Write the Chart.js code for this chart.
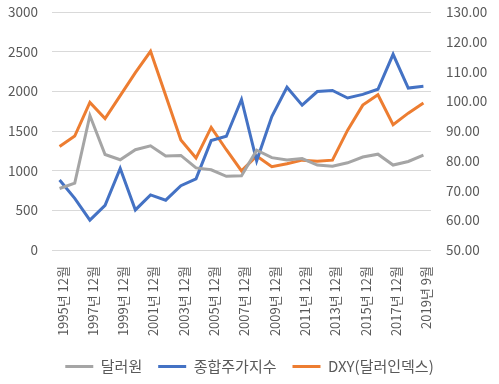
<!DOCTYPE html>
<html>
<head>
<meta charset="utf-8">
<script src="https://cdn.jsdelivr.net/npm/chart.js@4.4.1/dist/chart.umd.min.js"></script>
<style>
html,body{margin:0;padding:0;background:#fff;}
#wrap{width:499px;height:384px;position:relative;}
</style>
</head>
<body>
<div id="wrap"><canvas id="c" width="499" height="384"></canvas></div>
<script>
const categories = ["1995년 12월","1996년 12월","1997년 12월","1998년 12월","1999년 12월","2000년 12월","2001년 12월","2002년 12월","2003년 12월","2004년 12월","2005년 12월","2006년 12월","2007년 12월","2008년 12월","2009년 12월","2010년 12월","2011년 12월","2012년 12월","2013년 12월","2014년 12월","2015년 12월","2016년 12월","2017년 12월","2018년 12월","2019년 9월"];
const usdKrw = [775,844,1695,1204,1138,1264,1313,1186,1192,1035,1011,929,936,1259,1164,1134,1153,1071,1055,1099,1172,1208,1071,1116,1196];
const kospi = [883,651,376,562,1028,505,694,628,811,896,1379,1434,1897,1124,1683,2051,1826,1997,2011,1916,1961,2026,2467,2041,2063];
const dxy = [84.8,88.3,99.6,94.2,101.9,109.6,116.8,101.9,87.0,80.9,91.2,83.7,76.6,81.6,78.0,79.0,80.2,79.8,80.2,90.3,98.7,102.2,92.1,96.0,99.4];
const seriesNames = ["달러원","종합주가지수","DXY(달러인덱스)"];
const leftTicks = {min:0,max:3000,step:500};
const rightTicks = {min:50,max:130,step:10};

const FONT = "'Noto Sans CJK KR', 'Noto Sans', sans-serif";
const TXT = '#595959';

function fixY(w){
  return function(s){ s.width = w; s.paddingTop = 0; s.paddingBottom = 0; };
}

new Chart(document.getElementById('c'), {
  type: 'line',
  data: {
    labels: categories,
    datasets: [
      {label: seriesNames[0], data: usdKrw, borderColor:'#A5A5A5', backgroundColor:'#A5A5A5', borderWidth:3, pointRadius:0, yAxisID:'y', tension:0},
      {label: seriesNames[1], data: kospi, borderColor:'#4472C4', backgroundColor:'#4472C4', borderWidth:3, pointRadius:0, yAxisID:'y', tension:0},
      {label: seriesNames[2], data: dxy, borderColor:'#ED7D31', backgroundColor:'#ED7D31', borderWidth:3, pointRadius:0, yAxisID:'y1', tension:0}
    ]
  },
  options: {
    responsive:false,
    animation:false,
    layout:{padding:{top:12,left:0,right:0,bottom:0}},
    plugins:{
      legend:{
        position:'bottom',
        labels:{
          usePointStyle:true,
          pointStyle:'line',
          pointStyleWidth:28,
          color:TXT,
          font:{family:FONT,size:15},
          padding:16
        }
      },
      tooltip:{enabled:false}
    },
    scales:{
      x:{
        offset:true,
        grid:{display:false},
        border:{display:false},
        ticks:{
          autoSkip:false,
          minRotation:90, maxRotation:90,
          color:TXT,
          font:{family:FONT,size:13},
          padding:8,
          labelOffset:3,
          callback:function(v,i){ return i%2===0 ? categories[i] : ''; }
        },
        afterFit:function(s){ s.height = 93; }
      },
      y:{
        position:'left',
        min:leftTicks.min, max:leftTicks.max,
        ticks:{stepSize:leftTicks.step, color:TXT, font:{family:FONT,size:13.5,lineHeight:1}, padding:14,
          callback:function(v){ return String(v); }},
        grid:{color:'#D9D9D9', lineWidth:1, drawTicks:false},
        border:{display:false},
        afterFit:fixY(52)
      },
      y1:{
        position:'right',
        min:rightTicks.min, max:rightTicks.max,
        ticks:{stepSize:rightTicks.step, color:TXT, font:{family:FONT,size:13.5,lineHeight:1}, padding:15,
          callback:function(v){ return Number(v).toFixed(2); }},
        grid:{display:false, drawTicks:false},
        border:{display:false},
        afterFit:fixY(68)
      }
    }
  }
});
</script>
</body>
</html>
